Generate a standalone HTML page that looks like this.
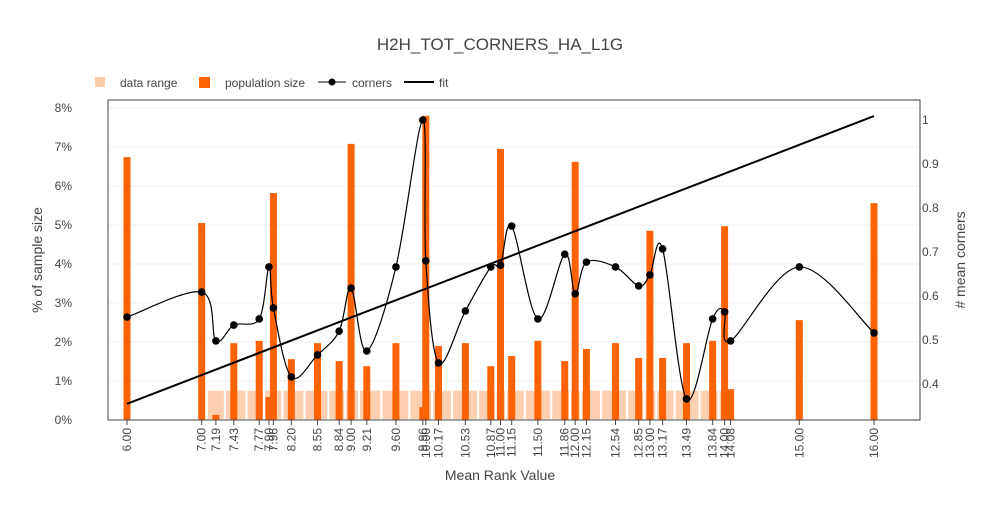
<!DOCTYPE html>
<html><head><meta charset="utf-8"><style>
body{margin:0;background:#fff;font-family:"Liberation Sans",sans-serif}
svg text{font-family:"Liberation Sans",sans-serif;fill:#444}
</style></head><body>
<svg id="c" width="1000" height="500">
<text x="500" y="50" text-anchor="middle" font-size="17">H2H_TOT_CORNERS_HA_L1G</text>
<g>
<rect x="95" y="77" width="10" height="10" fill="#ffcaa8"/>
<text x="120" y="87" font-size="12">data range</text>
<rect x="199" y="77" width="11" height="11" fill="#ff6200"/>
<text x="225" y="87" font-size="12">population size</text>
<line x1="318" y1="82" x2="346" y2="82" stroke="#000"/>
<circle cx="332" cy="82" r="3.5" fill="#000"/>
<text x="352" y="87" font-size="12">corners</text>
<line x1="404" y1="82" x2="434" y2="82" stroke="#000" stroke-width="2"/>
<text x="439" y="87" font-size="12">fit</text>
</g>
<text transform="translate(42,260) rotate(-90)" text-anchor="middle" font-size="14">% of sample size</text>
<text transform="translate(965,260) rotate(-90)" text-anchor="middle" font-size="14"># mean corners</text>
<text x="500" y="480" text-anchor="middle" font-size="14">Mean Rank Value</text>
<g id="grid"></g><g id="ranges"></g><g id="bars"></g><g id="lines"></g><g id="axes"></g>
</svg>
<script>
const xVals=[6.00,7.00,7.19,7.43,7.77,7.90,7.96,8.20,8.55,8.84,9.00,9.21,9.60,9.96,10.00,10.17,10.53,10.87,11.00,11.15,11.50,11.86,12.00,12.15,12.54,12.85,13.00,13.17,13.49,13.84,14.00,14.08,15.00,16.00];
const popPct=[6.74,5.05,0.13,1.97,2.03,0.59,5.82,1.56,1.97,1.51,7.08,1.38,1.97,0.33,7.8,1.9,1.97,1.38,6.95,1.64,2.03,1.51,6.62,1.82,1.97,1.59,4.85,1.59,1.97,2.03,4.97,0.79,2.56,5.56];
const corners=[0.552,0.609,0.498,0.534,0.548,0.666,0.573,0.416,0.466,0.520,0.618,0.475,0.666,1.0,0.68,0.448,0.566,0.666,0.670,0.759,0.548,0.695,0.605,0.677,0.666,0.623,0.648,0.707,0.366,0.548,0.564,0.498,0.666,0.516];
const fitEnds=[0.355,1.009];
const rangeMin=7.19, rangeMax=14.08, rangeHeight=0.75;
const yTicks=[0,1,2,3,4,5,6,7,8];
const y2Ticks=[0.4,0.5,0.6,0.7,0.8,0.9,1];
const NS="http://www.w3.org/2000/svg";
const L=108,R=920,T=100,B=420;
const X=v=>127+(v-6)*74.7;
const Y=p=>420-p*39;
const Y2=v=>384-(v-0.4)*440;
function mk(tag,a,parent){const e=document.createElementNS(NS,tag);for(const k in a)e.setAttribute(k,a[k]);document.getElementById(parent).appendChild(e);return e;}
yTicks.forEach(t=>{
 const g=mk('line',{x1:L,x2:R,y1:Y(t),y2:Y(t),stroke:'#f0f0f0'},'grid');
 
 
 const tx=mk('text',{x:L-36,y:Y(t)+4,'font-size':12,'text-anchor':'end'},'axes');tx.textContent=t+'%';
 
 
});
y2Ticks.forEach(t=>{
 const tx=mk('text',{x:R+2,y:Y2(t)+4,'font-size':12},'axes');tx.textContent=String(t);
 
 
});
const inR=xVals.filter(v=>v>=rangeMin&&v<=rangeMax);
for(let i=0;i<inR.length;i++){
 const a=i==0?inR[0]-0.12:(inR[i-1]+inR[i])/2, b=i==inR.length-1?inR[i]+0.05:(inR[i]+inR[i+1])/2;
 const w=X(b)-X(a)-2; if(w<=0)continue;
 const r=mk('rect',{x:X(a)+1,y:Y(rangeHeight),width:w,height:Y(0)-Y(rangeHeight)-1,fill:'#ffcaa8',opacity:0.9},'ranges');
 
 
}
xVals.forEach((v,i)=>{
 const b=mk('rect',{x:X(v)-3.5,y:Y(popPct[i]),width:7,height:Y(0)-Y(popPct[i]),fill:'#ff6200'},'bars');
 
 
 const tk=mk('line',{x1:X(v),x2:X(v),y1:B,y2:B+5,stroke:'#444'},'axes');
 
 
 const tx=mk('text',{transform:`translate(${X(v)+4},${B+8}) rotate(-90)`,'text-anchor':'end','font-size':12},'axes');
 tx.textContent=v.toFixed(2);
 
 
});
const pts=xVals.map((v,i)=>[X(v),Y2(corners[i])]);
let d=`M${pts[0][0]},${pts[0][1]}`;
for(let i=0;i<pts.length-1;i++){
 const p0=pts[Math.max(0,i-1)],p1=pts[i],p2=pts[i+1],p3=pts[Math.min(pts.length-1,i+2)];
 const k=1/6;
 d+=` C${p1[0]+(p2[0]-p0[0])*k},${p1[1]+(p2[1]-p0[1])*k} ${p2[0]-(p3[0]-p1[0])*k},${p2[1]-(p3[1]-p1[1])*k} ${p2[0]},${p2[1]}`;
}
const cl=mk('path',{d:d,fill:'none',stroke:'#000','stroke-width':1.2},'lines');


const fl=mk('line',{x1:X(xVals[0]),y1:Y2(fitEnds[0]),x2:X(xVals[xVals.length-1]),y2:Y2(fitEnds[1]),stroke:'#000','stroke-width':2},'lines');


pts.forEach(p=>{
 const c=mk('circle',{cx:p[0],cy:p[1],r:3.8,fill:'#000'},'lines');
 
 
});
const fr=mk('rect',{x:L,y:T,width:R-L,height:B-T,fill:'none',stroke:'#444'},'axes');


</script>
</body></html>
